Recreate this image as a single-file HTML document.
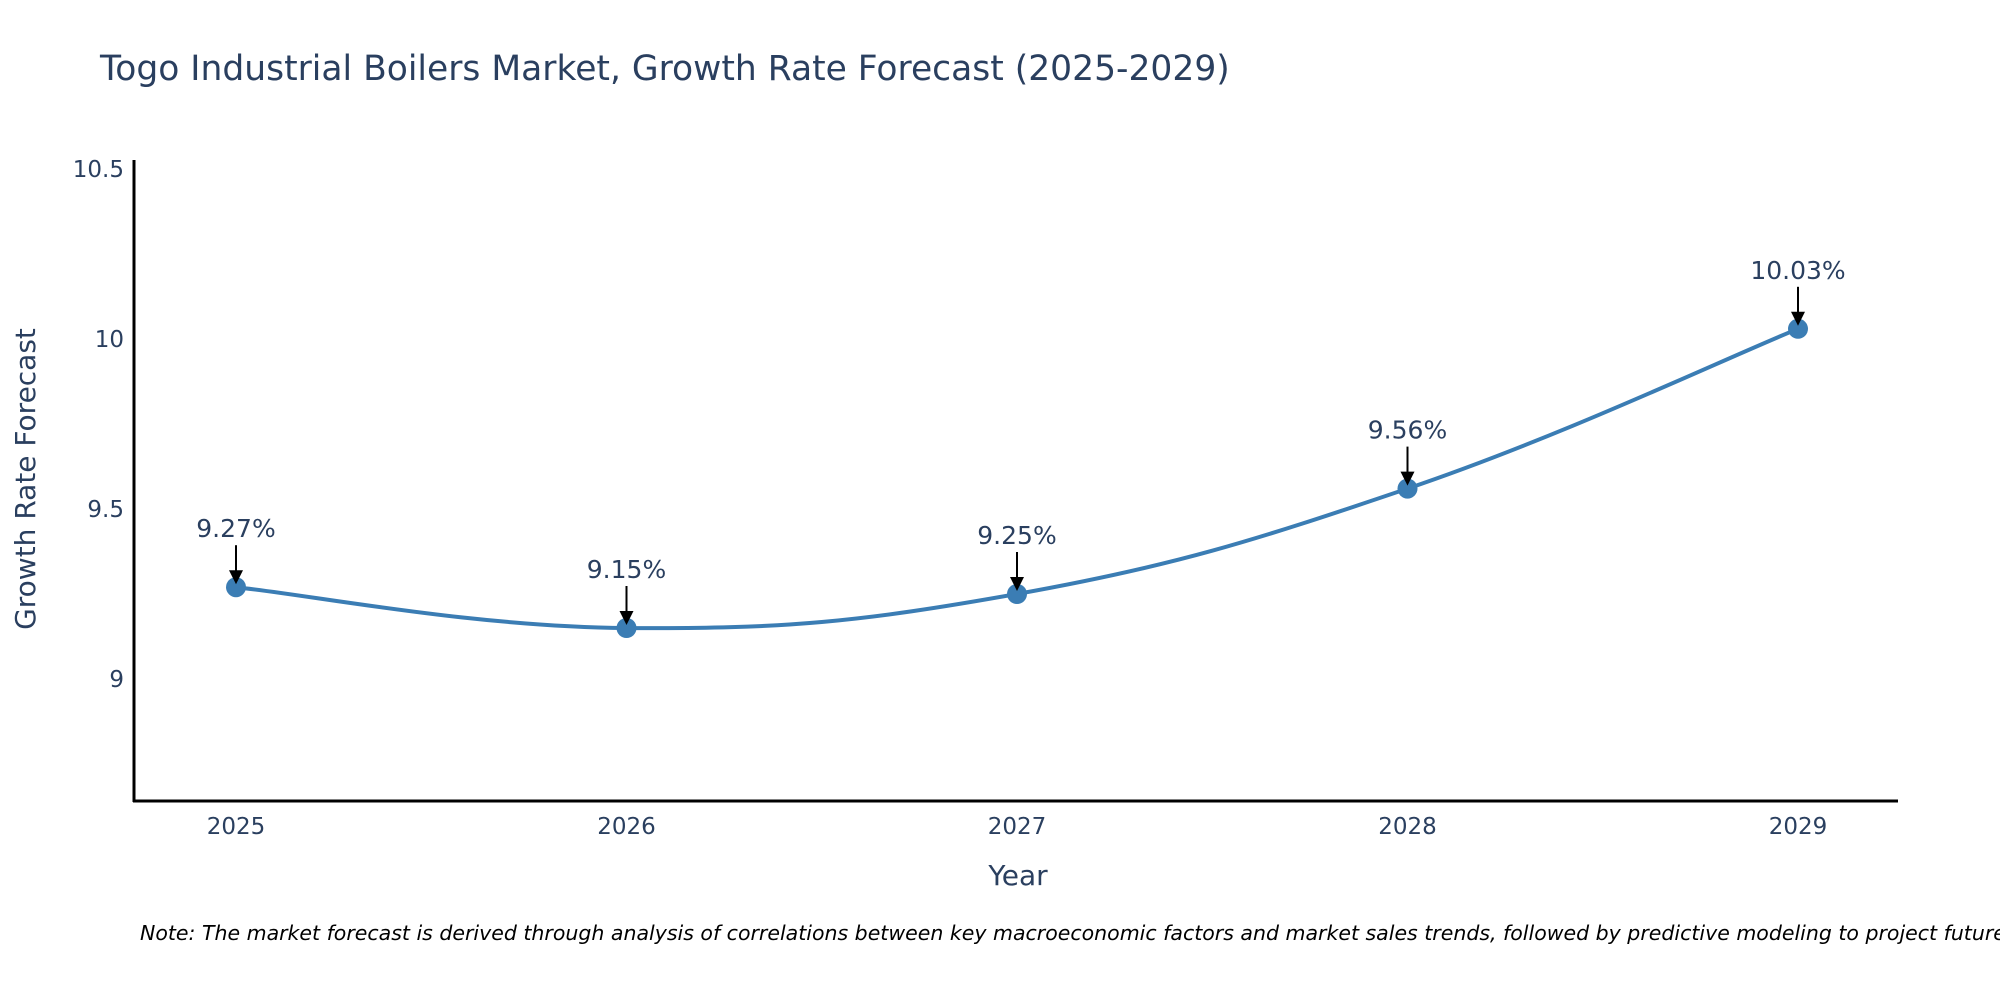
<!DOCTYPE html>
<html><head><meta charset="utf-8"><style>
body{margin:0;background:#fff;overflow:hidden;}
svg{display:block;font-family:"DejaVu Sans","Liberation Sans",sans-serif;}
</style></head><body>
<svg id="chart" width="2000" height="1000" viewBox="0 0 2000 1000">
<text x="100" y="80" font-size="34.5" fill="#2a3f5f">Togo Industrial Boilers Market, Growth Rate Forecast (2025-2029)</text>
<g id="yticks"></g>
<g id="xticks"></g>
<path id="line" fill="none" stroke="#3b7db4" stroke-width="4"></path>
<g id="points"></g>
<g id="annots"></g>
<line x1="134" y1="160" x2="134" y2="802" stroke="#000" stroke-width="3"/>
<line x1="133" y1="801" x2="1898" y2="801" stroke="#000" stroke-width="3"/>
<text x="1018" y="885" font-size="28" fill="#2a3f5f" text-anchor="middle">Year</text>
<text transform="translate(35,479) rotate(-90)" font-size="28" fill="#2a3f5f" text-anchor="middle">Growth Rate Forecast</text>
<text x="140" y="940" font-size="20.5" font-style="italic" fill="#000">Note: The market forecast is derived through analysis of correlations between key macroeconomic factors and market sales trends, followed by predictive modeling to project future sales.</text>
</svg>
<script>
const years = [2025, 2026, 2027, 2028, 2029];
const values = [9.27, 9.15, 9.25, 9.56, 10.03];
const labels = ["9.27%", "9.15%", "9.25%", "9.56%", "10.03%"];
const yTicks = [9, 9.5, 10, 10.5];

const NS = "http://www.w3.org/2000/svg";
function xs(v){ return 236 + (v - 2025) * 390.5; }
function ys(v){ return 679 - (v - 9) * 340; }
function mk(tag, attrs, parent){ const e = document.createElementNS(NS, tag); for (const k in attrs) e.setAttribute(k, attrs[k]); parent.appendChild(e); return e; }

const yg = document.getElementById('yticks');
yTicks.forEach(t => {
  const e = mk('text', {x: 124, y: ys(t) + 8, 'font-size': 23, fill: '#2a3f5f', 'text-anchor': 'end'}, yg);
  
  
  e.textContent = String(t);
});
const xg = document.getElementById('xticks');
years.forEach(y => {
  const e = mk('text', {x: xs(y), y: 834, 'font-size': 23, fill: '#2a3f5f', 'text-anchor': 'middle'}, xg);
  
  
  e.textContent = String(y);
});

const P = years.map((y, i) => [xs(y), ys(values[i])]);
let d = 'M' + P[0][0] + ',' + P[0][1];
for (let i = 0; i < P.length - 1; i++) {
  const p0 = P[Math.max(0, i - 1)], p1 = P[i], p2 = P[i + 1], p3 = P[Math.min(P.length - 1, i + 2)];
  const t = 0.2;
  const c1 = [p1[0] + (p2[0] - p0[0]) * t, p1[1] + (p2[1] - p0[1]) * t];
  const c2 = [p2[0] - (p3[0] - p1[0]) * t, p2[1] - (p3[1] - p1[1]) * t];
  d += ' C' + c1.join(',') + ' ' + c2.join(',') + ' ' + p2.join(',');
}
document.getElementById('line').setAttribute('d', d);

const pg = document.getElementById('points');
const ag = document.getElementById('annots');
P.forEach((p, i) => {
  const c = mk('circle', {cx: p[0], cy: p[1], r: 10, fill: '#3b7db4'}, pg);
  
  
  const l = mk('line', {x1: p[0], y1: p[1] - 42, x2: p[0], y2: p[1] - 14, stroke: '#000', 'stroke-width': 2}, ag);
  
  
  const h = mk('polygon', {points: (p[0]-7)+','+(p[1]-17)+' '+(p[0]+7)+','+(p[1]-17)+' '+p[0]+','+(p[1]-3), fill: '#000'}, ag);
  
  
  const t = mk('text', {x: p[0], y: p[1] - 50, 'font-size': 25, fill: '#2a3f5f', 'text-anchor': 'middle'}, ag);
  
  
  t.textContent = labels[i];
});
</script>
</body></html>
